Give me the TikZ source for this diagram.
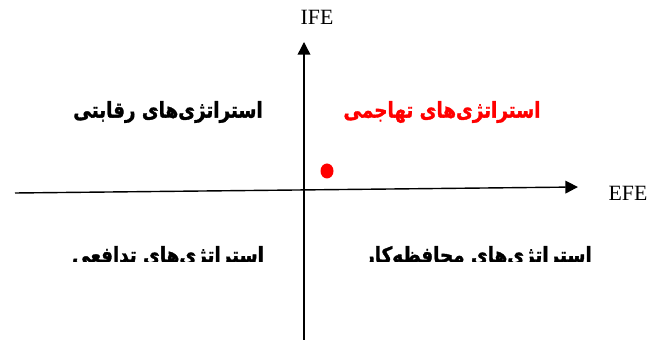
\documentclass[tikz,border=0pt]{standalone}
\usepackage{fontspec}
\setmainfont{Liberation Serif}
\newfontfamily\persianfont[Script=Arabic, FakeStretch=0.84, BoldFeatures={FakeBold=1.5}]{DejaVu Sans}
\TeXXeTstate=1
\usetikzlibrary{arrows.meta}
\tikzset{
  quadlabel/.style={font=\persianfont\bfseries\fontsize{15.5}{18}\selectfont},
  axislabel/.style={font=\fontsize{15.5}{18}\selectfont},
}

\begin{document}
\begin{tikzpicture}[x=0.025cm, y=-0.025cm, >={Triangle[length=9pt,width=9pt]}]
    \useasboundingbox (0,0) rectangle (651,340);

    % axes
    \coordinate (west) at (15,193);
    \coordinate (east) at (578,187);
    \coordinate (south) at (304,340);
    \coordinate (north) at (304,42);
    \draw [->, line width=1pt] (west) -- (east);
    \draw [->, line width=1pt] (south) -- (north);
    \node [axislabel] (efe) at (628,193) {EFE};
    \node [axislabel] (ife) at (317,17) {IFE};

    % upper quadrants
    \node [quadlabel] (rival) at (168,112) {\beginR استراتژی‌های رقابتی\endR};
    \node [quadlabel, red] (attack) at (442,112) {\beginR استراتژی‌های تهاجمی\endR};

    % lower quadrants (cut off at the bottom)
    \begin{scope}
        \clip (0,230) rectangle (651,262);
        \node [quadlabel] (defend) at (168,257) {\beginR استراتژی‌های تدافعی\endR};
        \node [quadlabel] (keep) at (478,257) {\beginR استراتژی‌های محافظه‌کار\endR};
    \end{scope}

    % current position
    \fill [red] (327,171) ellipse [x radius=6.5, y radius=7.5];
\end{tikzpicture}
\end{document}
